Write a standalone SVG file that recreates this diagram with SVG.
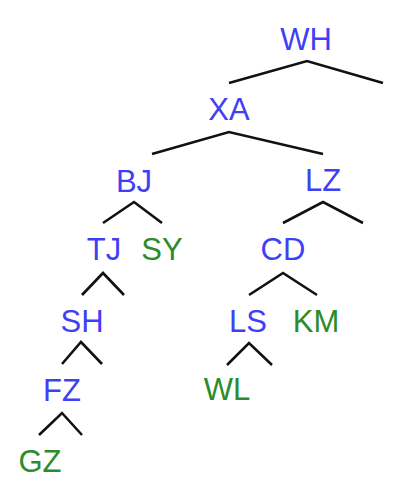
<svg xmlns="http://www.w3.org/2000/svg" width="402" height="494" viewBox="0 0 402 494">
<style>
text{font-family:"Liberation Sans",Arial,sans-serif;font-size:31px;text-anchor:middle}
.i{fill:#3f3ff5}
.l{fill:#2a8c2a}
.e{fill:none;stroke:#111;stroke-width:2.6;stroke-linejoin:miter}
</style>
<rect width="402" height="494" fill="#fff"/>
<g id="connectors">
<polyline class="e" points="229,83 307,61 383,83"/>
<polyline class="e" points="152,154 229,132 323,154"/>
<polyline class="e" points="103,223 134,202 162,223"/>
<polyline class="e" points="283,223 323,202 363,223"/>
<polyline class="e" points="82,295 103,273 124,295"/>
<polyline class="e" points="249,295 283,273 317,295"/>
<polyline class="e" points="62,364 81,342 102,364"/>
<polyline class="e" points="227,365 249,343 272,365"/>
<polyline class="e" points="39,435 62,413 82,435"/>
</g>
<g id="WH"><text class="i" x="306" y="50">WH</text></g>
<g id="XA"><text class="i" x="229" y="120">XA</text></g>
<g id="BJ"><text class="i" x="134" y="192">BJ</text></g>
<g id="LZ"><text class="i" x="323" y="191">LZ</text></g>
<g id="TJ"><text class="i" x="104" y="260">TJ</text></g>
<g id="SY"><text class="l" x="162" y="260">SY</text></g>
<g id="CD"><text class="i" x="283" y="260">CD</text></g>
<g id="SH"><text class="i" x="82" y="332">SH</text></g>
<g id="LS"><text class="i" x="248" y="332">LS</text></g>
<g id="KM"><text class="l" x="316" y="332">KM</text></g>
<g id="FZ"><text class="i" x="62" y="401">FZ</text></g>
<g id="WL"><text class="l" x="227" y="400">WL</text></g>
<g id="GZ"><text class="l" x="40" y="472">GZ</text></g>
</svg>
